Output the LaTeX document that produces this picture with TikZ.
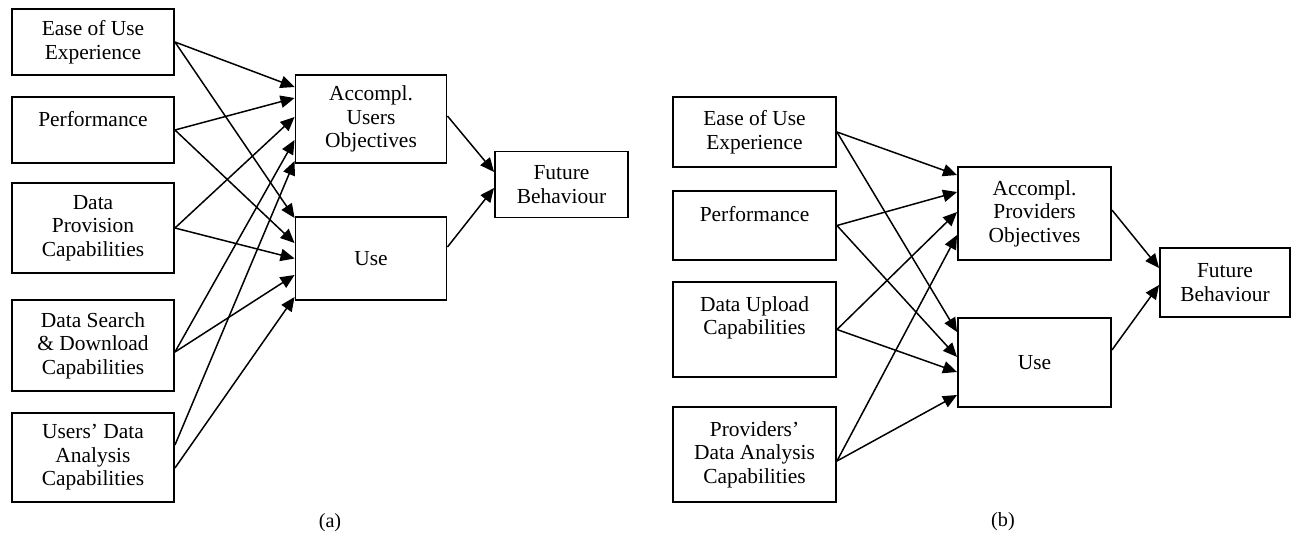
\documentclass[tikz,border=0pt]{standalone}
\usepackage{fontspec}
\setmainfont{Liberation Serif}
\usetikzlibrary{arrows.meta,positioning}
\tikzset{
    %Define standard arrow tip
    >={Triangle[length=8pt,width=7pt]},
    %Define style for boxes
    factor/.style={
        rectangle,
        draw=black, line width=1.1pt,
        minimum width=3.24cm,
        inner sep=0pt,
        font=\fontsize{12.2}{13.4}\selectfont,
        align=center
    },
    outcome/.style={
        factor,
        minimum width=3.02cm
    },
    behaviour/.style={
        factor,
        minimum width=2.66cm,
        minimum height=1.32cm
    },
    % Define arrow style
    pil/.style={
        ->,
        line width=0.85pt},
    caption/.style={font=\fontsize{11.5}{12}\selectfont}
}

\begin{document}
\begin{tikzpicture}[x=0.02cm,y=-0.02cm]
    \useasboundingbox (0,0) rectangle (1291,535);
    % (a) users
    \node[factor,minimum height=1.32cm](a1) at (93,42){Ease of Use\\Experience};
    \node[factor,minimum height=1.32cm,text depth=0.45cm](a2) at (93,130){Performance};
    \node[factor,minimum height=1.8cm](a3) at (93,228){Data\\Provision\\Capabilities};
    \node[factor,minimum height=1.82cm](a4) at (93,345.5){Data Search\\\& Download\\Capabilities};
    \node[factor,minimum height=1.78cm](a5) at (93,457.5){Users’ Data\\Analysis\\Capabilities};
    \node[outcome,minimum height=1.76cm](a6) at (371,119){Accompl.\\Users\\Objectives};
    \node[outcome,minimum height=1.66cm](a7) at (371,258.5){Use};
    \node[behaviour](a8) at (561.5,184.5){Future\\Behaviour};
    \node[caption](capa) at (330,523){(a)};
    \path[pil]
    (a1.east) edge ([yshift=0.64cm]a6.west) edge ([yshift=0.81cm]a7.west)
    (a2.east) edge ([yshift=0.42cm]a6.west) edge ([yshift=0.31cm]a7.west)
    (a3.east) edge ([yshift=0.04cm]a6.west) edge (a7.west)
    ([yshift=-0.13cm]a4.east) edge ([yshift=-0.42cm]a6.west) edge ([yshift=-0.33cm]a7.west)
    ([yshift=0.25cm]a5.east) edge ([yshift=-0.84cm]a6.west)
    ([yshift=-0.21cm]a5.east) edge ([yshift=-0.77cm]a7.west)
    ([yshift=0.06cm]a6.east) edge ([yshift=0.25cm]a8.west)
    ([yshift=0.23cm]a7.east) edge ([yshift=-0.07cm]a8.west);
    % (b) providers
    \node[factor,minimum width=3.26cm,minimum height=1.4cm](b1) at (754.5,132){Ease of Use\\Experience};
    \node[factor,minimum width=3.26cm,minimum height=1.38cm,text depth=0.45cm](b2) at (754.5,225.5){Performance};
    \node[factor,minimum width=3.26cm,minimum height=1.9cm,text depth=0.55cm](b3) at (754.5,329.5){Data Upload\\Capabilities};
    \node[factor,minimum width=3.26cm,minimum height=1.9cm](b4) at (754.5,454.5){Providers’\\Data Analysis\\Capabilities};
    \node[outcome,minimum width=3.06cm,minimum height=1.86cm](b5) at (1034.5,213.5){Accompl.\\Providers\\Objectives};
    \node[outcome,minimum width=3.06cm,minimum height=1.78cm](b6) at (1034.5,362.5){Use};
    \node[behaviour,minimum width=2.6cm,minimum height=1.38cm](b7) at (1225,282.5){Future\\Behaviour};
    \node[caption](capb) at (1003,522){(b)};
    \path[pil]
    (b1.east) edge ([yshift=0.77cm]b5.west) edge ([yshift=0.61cm]b6.west)
    (b2.east) edge ([yshift=0.43cm]b5.west) edge ([yshift=0.11cm]b6.west)
    (b3.east) edge ([yshift=0.03cm]b5.west) edge ([yshift=-0.19cm]b6.west)
    ([yshift=-0.13cm]b4.east) edge ([yshift=-0.43cm]b5.west) edge ([yshift=-0.65cm]b6.west)
    ([yshift=0.07cm]b5.east) edge ([yshift=0.29cm]b7.west)
    ([yshift=0.25cm]b6.east) edge ([yshift=-0.05cm]b7.west);
\end{tikzpicture}
\end{document}
